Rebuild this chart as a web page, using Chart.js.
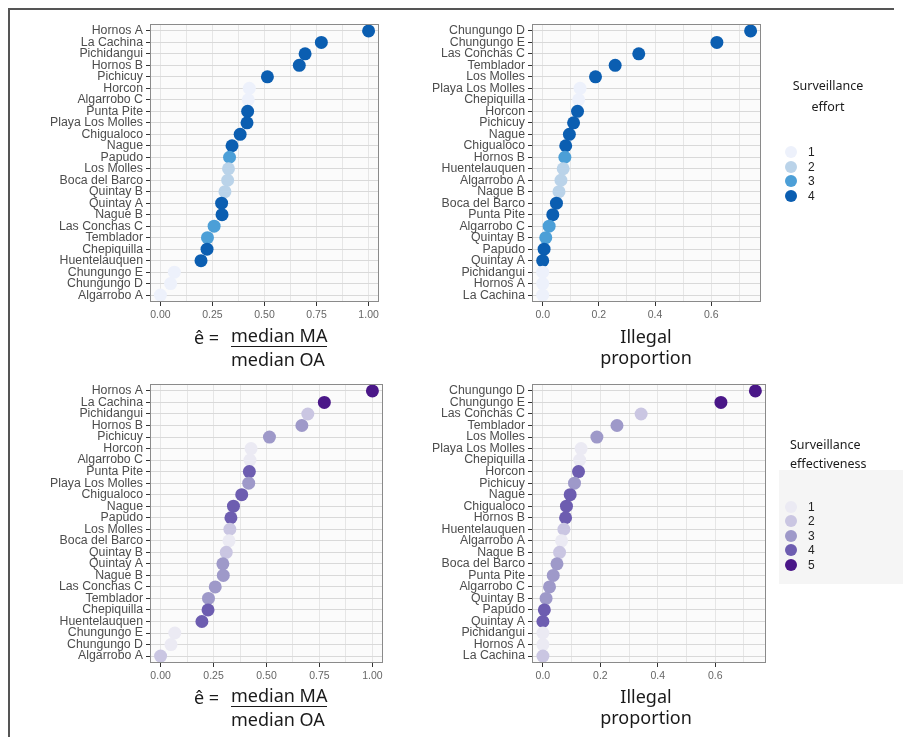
<!DOCTYPE html>
<html><head><meta charset="utf-8">
<script src="https://cdn.jsdelivr.net/npm/chart.js@4/dist/chart.umd.min.js"></script>
<style>
body{margin:0;width:903px;height:737px;background:#fff;position:relative;overflow:hidden;font-family:"Liberation Sans",Arial,sans-serif;}
canvas{position:absolute;}
.abs{position:absolute;white-space:nowrap;}
.ttl{font-family:"Noto Sans",sans-serif;font-size:18px;color:#1a1a1a;line-height:22px;}
.lt{font-family:"Noto Sans",sans-serif;font-size:12.5px;color:#1a1a1a;line-height:16px;}
.lk{position:absolute;width:12px;height:12px;border-radius:50%;}
.ll{position:absolute;font-size:12px;color:#222;line-height:14px;}
</style></head><body>
<div class="abs" style="left:8px;top:8px;width:2px;height:729px;background:#555;"></div>
<div class="abs" style="left:8px;top:8px;width:886px;height:2px;background:#555;"></div>

<canvas id="c1" width="390" height="330" style="left:0;top:0"></canvas>
<canvas id="c2" width="390" height="330" style="left:390px;top:0"></canvas>
<canvas id="c3" width="390" height="330" style="left:0;top:360px"></canvas>
<canvas id="c4" width="390" height="330" style="left:390px;top:360px"></canvas>

<div id="titles"></div>
<div id="legends"></div>

<script>
// ---- data ----
const sitesByEffect = ['Hornos A','La Cachina','Pichidangui','Hornos B','Pichicuy','Horcon','Algarrobo C','Punta Pite','Playa Los Molles','Chigualoco','Nague','Papudo','Los Molles','Boca del Barco','Quintay B','Quintay A','Nague B','Las Conchas C','Temblador','Chepiquilla','Huentelauquen','Chungungo E','Chungungo D','Algarrobo A'];
const effectRatio = [1.00,0.773,0.695,0.667,0.514,0.427,0.422,0.419,0.416,0.383,0.344,0.332,0.327,0.323,0.310,0.294,0.296,0.258,0.226,0.224,0.195,0.067,0.049,0.000];

const sitesByIllegal = ['Chungungo D','Chungungo E','Las Conchas C','Temblador','Los Molles','Playa Los Molles','Chepiquilla','Horcon','Pichicuy','Nague','Chigualoco','Hornos B','Huentelauquen','Algarrobo A','Nague B','Boca del Barco','Punta Pite','Algarrobo C','Quintay B','Papudo','Quintay A','Pichidangui','Hornos A','La Cachina'];
const illegalProp = [0.740,0.620,0.342,0.258,0.188,0.133,0.128,0.124,0.110,0.095,0.082,0.079,0.073,0.065,0.058,0.049,0.036,0.023,0.011,0.005,0.000,0.000,0.000,0.000];

const effortTopLeft  = [4,4,4,4,4,1,1,4,4,4,4,3,2,2,2,4,4,3,3,4,4,1,1,1];
const effortTopRight = [4,4,4,4,4,1,1,4,4,4,4,3,2,2,2,4,4,3,3,4,4,1,1,1];
const effectivenessBottomLeft  = [5,5,2,3,3,1,1,4,3,4,4,4,2,1,2,3,3,3,3,4,4,1,1,2];
const effectivenessBottomRight = [5,5,2,3,3,1,1,4,3,4,4,4,2,1,2,3,3,3,3,4,4,1,1,2];

const effortLevels = ['1','2','3','4'];
const effectivenessLevels = ['1','2','3','4','5'];
const bluePalette = ['#edf1fb','#bad3e9','#4c9fd7','#0b5eb1'];
const purplePalette = ['#ebeaf3','#cac6e2','#9e99c9','#6d5db0','#4a1788'];

const ticksRatio = [0,0.25,0.5,0.75,1];
const minorRatio = [0.125,0.375,0.625,0.875];
const ticksProp = [0,0.2,0.4,0.6];
const minorProp = [0.1,0.3,0.5,0.7];

// ---- drawing ----
const panelPlugin = {
  id:'panel',
  beforeDraw(chart){
    const a=chart.chartArea, c=chart.ctx;
    c.save(); c.fillStyle='#fbfbfb'; c.fillRect(a.left,a.top,a.right-a.left,a.bottom-a.top); c.restore();
  },
  afterDraw(chart){
    const a=chart.chartArea, c=chart.ctx;
    c.save(); c.strokeStyle='#8a8a8a'; c.lineWidth=1;
    c.strokeRect(Math.round(a.left)+0.5,Math.round(a.top)+0.5,Math.round(a.right-a.left)-1,Math.round(a.bottom-a.top)-1);
    c.restore();
  }
};

function isIn(arr,v){return arr.some(t=>Math.abs(t-v)<1e-9);}

function makePanel(id,cats,vals,levels,palette,xmin,xmax,majors,minors,fmt,pad,yW,xH){
  const all=[...majors,...minors].sort((a,b)=>a-b);
  new Chart(document.getElementById(id),{
    type:'scatter',
    data:{datasets:[{
      data:vals.map((v,i)=>({x:v,y:i})),
      pointBackgroundColor:levels.map(l=>palette[l-1]),
      pointBorderWidth:0,pointRadius:6.5,pointHoverRadius:6.5
    }]},
    options:{
      responsive:false,animation:false,
      layout:{padding:pad},
      plugins:{legend:{display:false},tooltip:{enabled:false}},
      scales:{
        x:{type:'linear',min:xmin,max:xmax,
          afterBuildTicks:s=>{s.ticks=all.map(v=>({value:v}));},
          afterFit:s=>{s.height=xH;},
          ticks:{autoSkip:false,maxRotation:0,padding:3,color:'#666',font:{family:'Liberation Sans',size:10.5},
            callback:v=>isIn(majors,v)?v.toFixed(fmt):''},
          grid:{color:'#e6e6e6',tickLength:4,tickColor:ctx=>isIn(majors,ctx.tick.value)?'#333':'rgba(0,0,0,0)'},
          border:{display:false}
        },
        y:{type:'linear',reverse:true,min:-0.6,max:cats.length-0.4,
          afterBuildTicks:s=>{s.ticks=cats.map((c,i)=>({value:i}));},
          afterFit:s=>{s.width=yW;},
          ticks:{autoSkip:false,padding:3,color:'#4d4d4d',font:{family:'Liberation Sans',size:12.3},
            callback:v=>cats[v]},
          grid:{color:'#d9d9d9',tickLength:4,tickColor:'#333'},
          border:{display:false}
        }
      }
    },
    plugins:[panelPlugin]
  });
}

makePanel('c1',sitesByEffect,effectRatio,effortTopLeft,bluePalette,-0.05,1.05,ticksRatio,minorRatio,2,{top:24,right:11,bottom:0,left:0},150,28);
makePanel('c2',sitesByIllegal,illegalProp,effortTopRight,bluePalette,-0.038,0.777,ticksProp,minorProp,1,{top:24,right:19,bottom:0,left:0},142,28);
makePanel('c3',sitesByEffect,effectRatio,effectivenessBottomLeft,purplePalette,-0.05,1.05,ticksRatio,minorRatio,2,{top:24,right:7,bottom:0,left:0},150,27);
makePanel('c4',sitesByIllegal,illegalProp,effectivenessBottomRight,purplePalette,-0.038,0.777,ticksProp,minorProp,1,{top:24,right:14,bottom:0,left:0},142,27);

// ---- titles ----
const T=document.getElementById('titles');
function add(html,style,cls){const d=document.createElement('div');d.className='abs '+(cls||'');d.innerHTML=html;d.style.cssText+=style;T.appendChild(d);return d;}
[0,360].forEach(dy=>{
  add('ê =','left:194px;top:'+(326+dy)+'px;','ttl');
  add('median MA','left:231px;top:'+(325+dy)+'px;border-bottom:1.6px solid #1a1a1a;line-height:21px;','ttl');
  add('median OA','left:231px;top:'+(348+dy)+'px;','ttl');
  add('Illegal','left:596px;width:100px;text-align:center;top:'+(325+dy)+'px;','ttl');
  add('proportion','left:576px;width:140px;text-align:center;top:'+(346+dy)+'px;','ttl');
});

// ---- legends ----
const L=document.getElementById('legends');
function legend(titleLines,align,titleX,titleY,levels,palette,keyY0,step,box){
  if(box){const b=document.createElement('div');b.className='abs';b.style.cssText='left:'+box[0]+'px;top:'+box[1]+'px;width:'+box[2]+'px;height:'+box[3]+'px;background:#f5f5f5;';L.appendChild(b);}
  titleLines.forEach((t,i)=>{const d=document.createElement('div');d.className='abs lt';d.textContent=t;
    d.style.cssText+=(align==='center'?'left:'+(titleX-60)+'px;width:120px;text-align:center;':'left:'+titleX+'px;')+'top:'+(titleY[i]-8)+'px;';L.appendChild(d);});
  levels.forEach((lv,i)=>{const y=keyY0+i*step;
    const k=document.createElement('div');k.className='lk';k.style.cssText+='left:785px;top:'+(y-6)+'px;background:'+palette[i]+';';L.appendChild(k);
    const t=document.createElement('div');t.className='ll';t.textContent=lv;t.style.cssText+='left:808px;top:'+(y-7)+'px;';L.appendChild(t);});
}
legend(['Surveillance','effort'],'center',828,[86,107],effortLevels,bluePalette,152,14.7,null);
legend(['Surveillance','effectiveness'],'left',790,[445,464],effectivenessLevels,purplePalette,506.5,14.6,[779,470,124,114]);
</script>
</body></html>
